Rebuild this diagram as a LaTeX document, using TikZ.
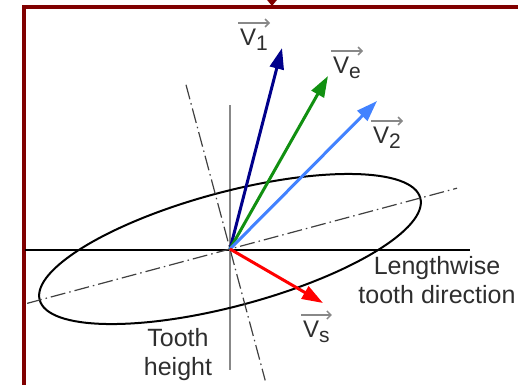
\documentclass[tikz,border=0pt]{standalone}
\usepackage{fontspec}
\setmainfont{Liberation Sans}
\usetikzlibrary{arrows.meta,calc}
\definecolor{framered}{HTML}{800000}
\definecolor{vone}{HTML}{00008B}
\definecolor{vgreen}{HTML}{119011}
\definecolor{vtwo}{HTML}{4282FF}
\definecolor{vred}{HTML}{FF0000}
\definecolor{txt}{HTML}{2E2E2E}
\definecolor{axisgray}{HTML}{888888}
\newcommand{\vsub}[1]{V\raisebox{-5.5pt}{\fontsize{21}{21}\selectfont #1}}
\begin{document}
\begin{tikzpicture}[x=1pt,y=-1pt,
  vec/.style={line width=3pt,-{Triangle[length=21pt,width=14pt]}},
  dashdot/.style={draw=black!75,line width=1.2pt,dash pattern=on 15pt off 4pt on 1.5pt off 4pt},
  vlabel/.style={inner sep=0pt,anchor=base west,text=txt,font=\fontsize{24}{24}\selectfont},
  overarrow/.style={draw=axisgray,line width=1.5pt,-{Straight Barb[length=4pt,width=8pt]}},
  plaintext/.style={inner sep=0pt,text=txt,align=center,font=\fontsize{25}{29}\selectfont}]
\useasboundingbox (0,0) rectangle (518,384);
% frame
\draw[framered,line width=4pt] (24,7) rectangle (560,420);
\coordinate (inA) at (272,-30);
\coordinate (inB) at (272,6);
\draw[framered,line width=2pt,-{Triangle[length=7pt,width=11pt]}] (inA) -- (inB);
% origin
\coordinate (O) at (230,249);
% axes
\coordinate (hl) at (25,250);
\coordinate (hr) at (470,250);
\draw[black,line width=1.3pt] (hl) -- (hr);
\coordinate (vt) at (230,105);
\coordinate (vb) at (230,370);
\draw[axisgray,line width=2.8pt] (vt) -- (vb);
% ellipse
\draw[black,line width=2pt,rotate around={15:(O)}] (O) ellipse [x radius=197pt,y radius=57pt];
% dash-dot axes
\draw[dashdot] ($(O)+(165:210)$) -- ($(O)+(-15:235)$);
\draw[dashdot] ($(O)+(-105:170)$) -- ($(O)+(75:136)$);
% vectors
\coordinate (t1) at (282,48);
\coordinate (te) at (328,76);
\coordinate (t2) at (377,101);
\coordinate (ts) at (323,303);
\draw[vec,vone] (O) -- (t1);
\draw[vec,vgreen] (O) -- (te);
\draw[vec,vtwo] (O) -- (t2);
\draw[vec,vred] (O) -- (ts);
% labels
\node[vlabel] (l1) at (240,45) {\vsub{1}};
\node[vlabel] (le) at (333,73) {\vsub{e}};
\node[vlabel] (l2) at (373,143) {\vsub{2}};
\node[vlabel] (ls) at (303,337) {\vsub{s}};
\foreach \n in {l1,le,l2,ls}{
  \draw[overarrow] ([xshift=-2pt,yshift=22pt]\n.base west) -- ([xshift=2pt,yshift=22pt]\n.base east);
}
\node[plaintext,anchor=base] (len) at (437,303) {Lengthwise\\tooth direction};
\node[plaintext,anchor=base] (th) at (178,375) {Tooth\\height};
\end{tikzpicture}
\end{document}
